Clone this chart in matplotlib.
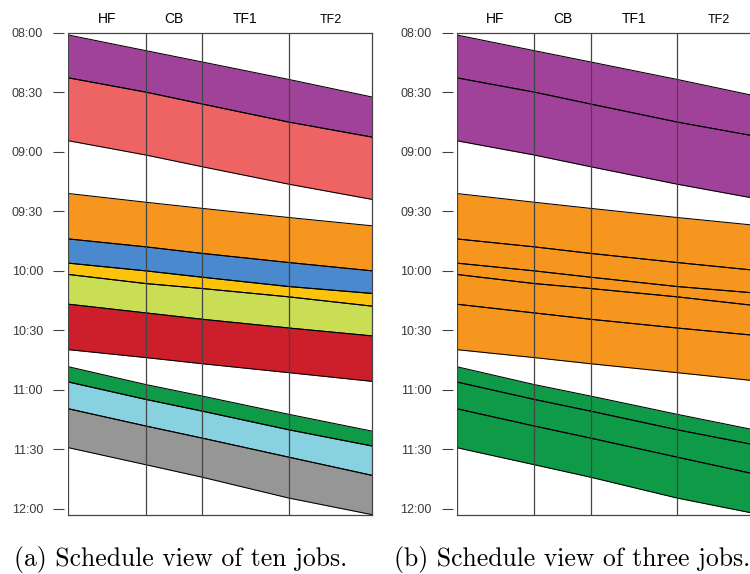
import matplotlib
matplotlib.use("Agg")
import matplotlib.pyplot as plt
from matplotlib.ticker import FuncFormatter

# Stations along the route (km) and the names shown over each section
route_km = [0.0, 7.7, 13.3, 21.9, 30.2]
stations = ["HF", "CB", "TF1", "TF2"]

# Start/end of every job at each route point, in minutes after 08:00
job_top = [
    [1.1, 9.0, 14.7, 23.5, 32.4],
    [22.7, 29.9, 35.9, 45.0, 52.6],
    [81.0, 85.4, 88.5, 93.1, 97.3],
    [103.9, 107.9, 111.2, 115.8, 120.0],
    [116.1, 120.0, 123.2, 127.9, 131.4],
    [121.8, 126.4, 128.9, 133.1, 137.8],
    [136.8, 141.2, 144.4, 148.8, 152.8],
    [168.3, 177.3, 183.1, 192.3, 200.8],
    [176.0, 184.8, 190.7, 200.1, 208.3],
    [189.5, 198.2, 204.3, 213.9, 223.1],
]
job_bottom = [
    [22.7, 29.9, 35.9, 45.0, 52.6],
    [54.4, 61.6, 67.5, 76.3, 84.0],
    [103.9, 107.9, 111.2, 115.8, 120.0],
    [116.1, 120.0, 123.2, 127.9, 131.4],
    [121.8, 126.4, 128.9, 133.1, 137.8],
    [136.8, 141.2, 144.4, 148.8, 152.8],
    [159.7, 163.7, 166.8, 171.3, 175.7],
    [176.0, 184.8, 190.7, 200.1, 208.3],
    [189.5, 198.2, 204.3, 213.9, 223.1],
    [209.1, 217.7, 224.0, 234.5, 242.9],
]
job_colors = ["#A1429A", "#EE6464", "#F7961E", "#4A89CD", "#FCC30D",
              "#C9DD55", "#CC1F2B", "#0F9A48", "#87D1E0", "#969696"]

# Grouping of the ten jobs into three
job_group = [0, 0, 1, 1, 1, 1, 1, 2, 2, 2]
group_colors = ["#A1429A", "#F7961E", "#0F9A48"]

time_ticks = [0, 30, 60, 90, 120, 150, 180, 210, 240]

captions = ["(a) Schedule view of ten jobs.", "(b) Schedule view of three jobs."]

FRAME = "#444444"


def hhmm(m, pos=None):
    m = int(round(m)) + 8 * 60
    return "%02d:%02d" % (m // 60, m % 60)


def draw_schedule(ax, colors):
    for top, bottom, c in zip(job_top, job_bottom, colors):
        ax.fill_between(route_km, top, bottom, color=c, linewidth=0)
        ax.plot(route_km, top, color="black", lw=0.75)
        ax.plot(route_km, bottom, color="black", lw=0.75)

    # station boundaries (left edge included, it replaces the left spine)
    ax.vlines(route_km[:-1], 0, 1, transform=ax.get_xaxis_transform(),
              color=FRAME, lw=0.9, zorder=5)

    ax.set_xlim(route_km[0], route_km[-1])
    ax.set_ylim(max(job_bottom[-1]), 0)

    ax.set_yticks(time_ticks)
    ax.yaxis.set_major_formatter(FuncFormatter(hhmm))
    ax.tick_params(axis="y", direction="out", length=8, width=0.8,
                   color=FRAME, pad=7.2, labelsize=9, labelcolor="#3a3a3a")
    ax.spines["left"].set_position(("outward", 3))
    ax.spines["left"].set_visible(False)
    for side in ["top", "right", "bottom"]:
        ax.spines[side].set_color(FRAME)
        ax.spines[side].set_linewidth(0.9)

    centers = [(a + b) / 2 for a, b in zip(route_km[:-1], route_km[1:])]
    ax.xaxis.tick_top()
    ax.set_xticks(centers, stations)
    ax.tick_params(axis="x", length=0, pad=5, labelsize=10)
    ax.get_xticklabels()[-1].set_fontsize(9)
    for lab in ax.get_xticklabels():
        lab.set_family("Liberation Sans")
    for lab in ax.get_yticklabels():
        lab.set_family("Liberation Sans")


fig = plt.figure(figsize=(7.5, 5.74), dpi=100)

ax1 = fig.add_axes([68.3 / 750, 1 - 514.7 / 574, 304 / 750, 481.9 / 574])
draw_schedule(ax1, job_colors)

ax2 = fig.add_axes([456.7 / 750, 1 - 514.7 / 574, 304 / 750, 481.9 / 574])
draw_schedule(ax2, [group_colors[g] for g in job_group])

fig.text(14 / 750, 1 - 566 / 574, captions[0], family="cmr10", fontsize=18.5,
         va="baseline")
fig.text(394 / 750, 1 - 566 / 574, captions[1], family="cmr10", fontsize=18.5,
         va="baseline")

fig.savefig("out.png", dpi=100)
